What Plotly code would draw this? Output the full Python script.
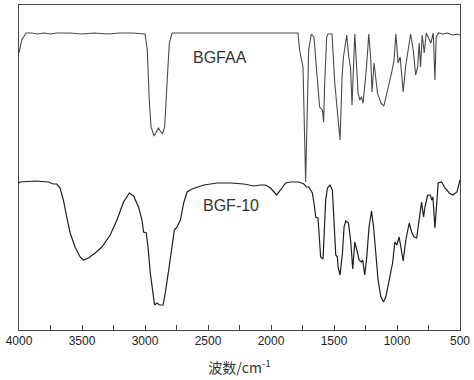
import plotly.graph_objects as go

# BGFAA spectrum (upper curve): wavenumber (cm-1) and relative transmittance (a.u.)
bgfaa_wn = [4000, 3978, 3944, 3900, 3850, 3800, 3750, 3700, 3600, 3500, 3400, 3300, 3200, 3100, 3000,
            2982, 2966, 2952, 2928, 2894, 2862, 2844, 2825, 2807, 2785, 2700, 2500, 2300, 2100, 1900, 1786,
            1773, 1746, 1725, 1711, 1701, 1680, 1659, 1640, 1614, 1592, 1582, 1574, 1558, 1548, 1516,
            1494, 1476, 1452, 1436, 1425, 1399, 1383, 1369, 1357, 1335, 1322, 1309, 1295, 1282, 1269,
            1242, 1224, 1208, 1198, 1182, 1155, 1128, 1104, 1083, 1062, 1043, 1023, 1009, 991, 975,
            951, 932, 892, 871, 852, 836, 824, 813, 800, 784, 768, 731, 712, 699, 689, 670, 640, 600,
            560, 520, 500]
bgfaa_t = [277, 290, 297, 297, 296, 297, 296, 297, 297, 296, 297, 296, 297, 297, 296,
           280, 230, 203, 194, 202, 196, 203, 247, 287, 297, 297, 297, 297, 297, 297, 297,
           280, 263, 148, 230, 280, 296, 293, 263, 223, 220, 208, 247, 293, 296, 296,
           247, 220, 190, 253, 273, 295, 273, 263, 225, 296, 263, 237, 230, 233, 227,
           263, 296, 270, 238, 267, 237, 227, 224, 237, 247, 257, 270, 296, 267, 273,
           238, 263, 296, 280, 255, 263, 287, 263, 295, 277, 297, 287, 297, 250, 293, 297, 296, 297,
           295, 296, 295]

# BGF-10 spectrum (lower curve)
bgf10_wn = [4000, 3992, 3873, 3767, 3727, 3700, 3674, 3648, 3621, 3594, 3555, 3515, 3489, 3449, 3395,
            3342, 3276, 3223, 3170, 3125, 3091, 3051, 3024, 3011, 2990, 2976, 2958, 2940, 2924, 2905,
            2884, 2857, 2839, 2812, 2785, 2767, 2746, 2719, 2693, 2666, 2626, 2534, 2427, 2322, 2216,
            2136, 2083, 2043, 2003, 1956, 1924, 1884, 1844, 1778, 1739, 1719, 1699, 1672, 1659, 1645,
            1627, 1614, 1606, 1587, 1579, 1566, 1552, 1532, 1513, 1500, 1486, 1473, 1468, 1452, 1433,
            1420, 1407, 1385, 1367, 1351, 1335, 1319, 1301, 1282, 1272, 1256, 1240, 1222, 1202, 1186,
            1168, 1150, 1128, 1107, 1089, 1062, 1035, 1017, 1001, 983, 964, 951, 930, 903, 884, 864,
            844, 824, 805, 789, 778, 757, 736, 723, 715, 699, 685, 673, 646, 619, 585, 558, 524,
            503, 500]
bgf10_t = [147, 148, 149, 148, 146, 146, 142, 130, 113, 97, 83, 73, 70, 72, 77,
           83, 95, 110, 128, 137, 134, 123, 110, 98, 97, 83, 57, 37, 25, 27,
           25, 25, 37, 60, 83, 100, 103, 110, 127, 138, 141, 145, 147, 147, 146,
           144, 145, 145, 142, 135, 140, 147, 148, 148, 146, 143, 143, 137, 127, 113,
           112, 93, 73, 71, 93, 130, 142, 145, 140, 110, 75, 73, 63, 55, 77,
           103, 109, 107, 88, 61, 88, 80, 70, 68, 70, 55, 73, 103, 119, 103,
           77, 50, 33, 28, 33, 50, 67, 88, 85, 93, 80, 69, 90, 107, 98, 93,
           92, 110, 128, 113, 123, 135, 135, 130, 133, 102, 130, 147, 148, 142, 137, 135, 138,
           147, 150]

x_ticks = [4000, 3500, 3000, 2500, 2000, 1500, 1000, 500]
x_title = "波数/cm<sup>-1</sup>"
label_top = "BGFAA"
label_bottom = "BGF-10"

fig = go.Figure()
fig.add_trace(go.Scatter(x=bgfaa_wn, y=bgfaa_t, mode="lines",
                         line=dict(color="#4a4a4a", width=1.1), showlegend=False))
fig.add_trace(go.Scatter(x=bgf10_wn, y=bgf10_t, mode="lines",
                         line=dict(color="#1e1e1e", width=1.2), showlegend=False))

fig.add_annotation(x=2401, y=273, text=label_top, showarrow=False,
                   font=dict(family="Liberation Sans, Arial", size=16, color="#333"))
fig.add_annotation(x=2314, y=125, text=label_bottom, showarrow=False,
                   font=dict(family="Liberation Sans, Arial", size=16, color="#333"))

fig.update_layout(
    width=474, height=380,
    margin=dict(l=19, r=14, t=5, b=50),
    paper_bgcolor="white", plot_bgcolor="white",
    font=dict(family="Liberation Sans, Arial", size=12, color="#222"),
)
fig.update_xaxes(
    range=[4000, 500], tickvals=x_ticks, ticktext=[str(v) for v in x_ticks],
    ticks="inside", ticklen=5, tickcolor="#444", tickwidth=1,
    minor=dict(ticks="inside", tickvals=[3750, 3250, 2750, 2250, 1750, 1250, 750], ticklen=5, tickcolor="#444"),
    showline=True, linecolor="#444", linewidth=1, mirror=True,
    showgrid=False, zeroline=False,
    tickfont=dict(size=12, color="#222"),
    title=dict(text=x_title, standoff=15,
               font=dict(family="Noto Sans CJK SC, Liberation Sans", size=14, color="#333")),
)
fig.update_yaxes(
    range=[0, 325], showticklabels=False, ticks="",
    showline=True, linecolor="#444", linewidth=1, mirror=True,
    showgrid=False, zeroline=False,
)

fig.write_html("out.html", config={"displayModeBar": False},
               post_script="document.body.style.margin='0';document.body.style.overflow='hidden';")
